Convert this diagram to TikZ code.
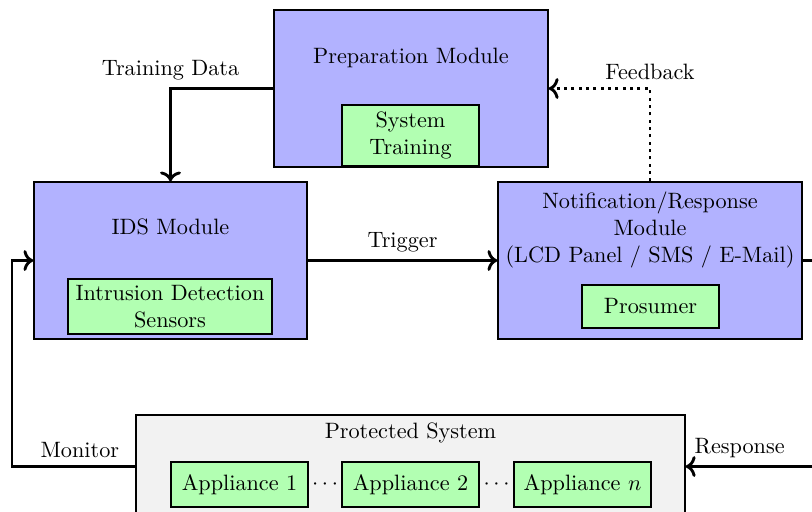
\documentclass[tikz,border=0pt]{standalone}
\usetikzlibrary{arrows.meta}
\begin{document}
\begin{tikzpicture}[x=0.45pt,y=-0.45pt,
  box/.style={draw, semithick, rectangle, inner sep=0pt},
  module/.style={box, fill=blue!30},
  comp/.style={box, fill=green!30, align=center},
  conn/.style={line width=1.3pt, ->},
  dots/.style={dash pattern=on 1.3pt off 2pt},
  lbl/.style={above}
]
\useasboundingbox (0,0) rectangle (812,511);
% outer boxes
\node[module, minimum width=123.3pt, minimum height=70.65pt] (prep) at (411,88.5) {};
\node[module, minimum width=122.85pt, minimum height=70.65pt] (ids) at (170.5,260.5) {};
\node[module, minimum width=136.8pt, minimum height=70.65pt] (notif) at (650,260.5) {};
\node[box, fill=gray!10, minimum width=247.05pt, minimum height=46.35pt] (prot) at (410.5,466.5) {};
% titles
\node (prept) at (411,57.5) {Preparation Module};
\node (idst) at (170.5,227) {IDS Module};
\node[align=center] (notift) at (650,230) {Notification/Response\\Module\\(LCD Panel / SMS / E-Mail)};
\node (prott) at (410.5,433) {Protected System};
% inner components
\node[comp, minimum width=61.65pt, minimum height=27.45pt] (train) at (410.5,135.5) {System\\Training};
\node[comp, minimum width=91.8pt, minimum height=24.75pt] (sens) at (170,306.5) {Intrusion Detection\\Sensors};
\node[comp, minimum width=61.65pt, minimum height=19.35pt] (pros) at (650.5,306.5) {Prosumer};
\node[comp, minimum width=61.65pt, minimum height=20.25pt] (a1) at (239.5,484.5) {Appliance 1};
\node[comp, minimum width=61.65pt, minimum height=20.25pt] (a2) at (410.5,484.5) {Appliance 2};
\node[comp, minimum width=61.65pt, minimum height=20.25pt] (an) at (582.5,484.5) {Appliance $n$};
\path (a1.east) -- node (d1) {$\cdots$} (a2.west);
\path (a2.east) -- node (d2) {$\cdots$} (an.west);
% connectors
\coordinate (mc) at (12,466.5);
\coordinate (rc) at (840,466.5);
\draw[conn] (prep.west) -| node[lbl, pos=0.5] {Training Data} (ids.north);
\draw[conn] (ids.east) -- node[lbl] {Trigger} (notif.west);
\draw[conn, dots] (notif.north) |- node[lbl, pos=0.5] {Feedback} (prep.east);
\draw[conn] (prot.west) -- node[lbl, pos=0.45] {Monitor} (mc) |- (ids.west);
\draw[conn] (notif.east) -| (rc) -- node[lbl, pos=0.65] {Response} (prot.east);
\end{tikzpicture}
\end{document}
